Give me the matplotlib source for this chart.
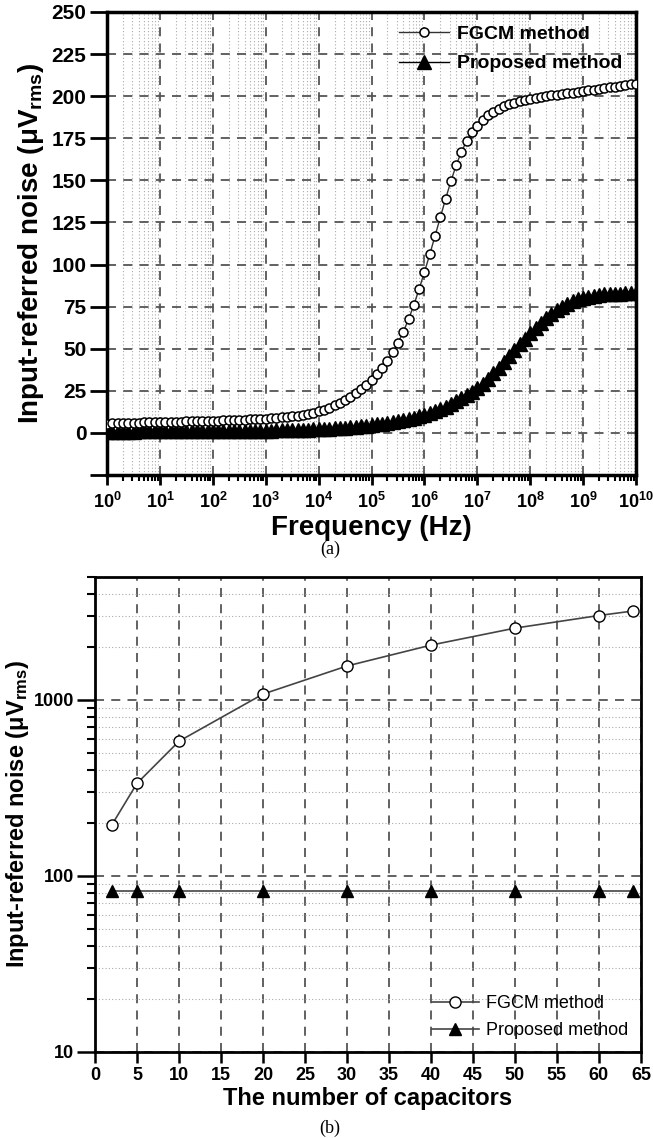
import matplotlib
matplotlib.use("Agg")
import matplotlib.pyplot as plt
import matplotlib.ticker as mticker
import numpy as np

plt.rcParams['font.family'] = ['Liberation Sans', 'DejaVu Sans']
plt.rcParams['mathtext.fontset'] = 'custom'
plt.rcParams['mathtext.rm'] = 'Liberation Sans'
plt.rcParams['mathtext.bf'] = 'Liberation Sans:bold'
plt.rcParams['mathtext.it'] = 'Liberation Sans:italic'

# ─── (a) noise vs frequency, 10 points per decade from 1 Hz to 10 GHz ───
freq_exp = np.arange(0, 101) / 10.0
freq_hz = 10.0 ** freq_exp

fgcm_noise = [
    5.5, 5.6, 5.7, 5.8, 5.9, 6.0, 6.1, 6.2, 6.2, 6.3,
    6.4, 6.5, 6.5, 6.6, 6.7, 6.8, 6.9, 7.0, 7.0, 7.1,
    7.2, 7.3, 7.4, 7.5, 7.6, 7.7, 7.8, 8.0, 8.1, 8.3,
    8.5, 8.7, 8.9, 9.2, 9.5, 9.9, 10.3, 10.8, 11.4, 12.1,
    12.9, 13.9, 15.0, 16.3, 17.8, 19.5, 21.4, 23.6, 26.0, 28.7,
    31.7, 35.0, 38.8, 43.0, 47.8, 53.5, 60.0, 67.5, 76.0, 85.5,
    95.5, 106.0, 117.0, 128.0, 139.0, 149.5, 159.0, 167.0, 173.5, 178.5,
    182.5, 186.0, 188.8, 190.8, 192.6, 194.0, 195.1, 196.1, 197.0, 197.7,
    198.3, 198.9, 199.4, 199.9, 200.4, 200.8, 201.3, 201.7, 202.1, 202.6,
    203.0, 203.5, 203.9, 204.4, 204.8, 205.2, 205.7, 206.1, 206.6, 207.0,
    207.5,
]

proposed_noise = [
    0.8, 0.8, 0.8, 0.8, 0.8, 0.8, 0.9, 0.9, 0.9, 0.9,
    0.9, 0.9, 0.9, 1.0, 1.0, 1.0, 1.0, 1.0, 1.0, 1.1,
    1.1, 1.1, 1.1, 1.1, 1.2, 1.2, 1.2, 1.3, 1.3, 1.3,
    1.4, 1.4, 1.5, 1.5, 1.6, 1.7, 1.8, 1.9, 2.0, 2.1,
    2.3, 2.4, 2.6, 2.8, 3.0, 3.2, 3.4, 3.7, 4.0, 4.3,
    4.7, 5.1, 5.5, 6.0, 6.5, 7.0, 7.6, 8.3, 9.0, 9.9,
    10.8, 11.8, 12.9, 14.1, 15.5, 17.0, 18.7, 20.5, 22.3, 24.3,
    26.5, 29.0, 32.0, 35.3, 38.7, 42.2, 45.7, 49.2, 52.6, 56.0,
    59.2, 62.4, 65.4, 68.2, 70.8, 73.1, 75.0, 76.7, 78.1, 79.3,
    80.2, 80.9, 81.5, 81.9, 82.2, 82.4, 82.6, 82.7, 82.8, 82.9,
    83.0,
]

# ─── (b) noise vs number of capacitors ───
n_caps = [2, 5, 10, 20, 30, 40, 50, 60, 64]
fgcm_caps = [195, 336, 583, 1080, 1560, 2050, 2560, 3020, 3200]
proposed_caps = [82, 82, 82, 82, 82, 82, 82, 82, 82]

YLABEL = r'Input-referred noise ($\mathbf{μV_{rms}}$)'
GRID_DASH = dict(color='#555555', linestyle=(0, (5, 4)), linewidth=1.3)
GRID_DOT = dict(color='#aaaaaa', linestyle=(0, (1, 2)), linewidth=0.8)

fig = plt.figure(figsize=(6.53, 11.38), dpi=100)

# ── top panel ──
ax1 = fig.add_axes([0.164, 0.5826, 0.810, 0.4069])
ax1.set_xscale('log')
ax1.set_xlim(1, 1e10)
ax1.set_ylim(-25, 250)

ax1.plot(freq_hz, fgcm_noise, color='#333333', linewidth=1.0, marker='o',
         markersize=6.5, markerfacecolor='white', markeredgecolor='black',
         markeredgewidth=1.1, label='FGCM method', zorder=4)
ax1.plot(freq_hz, proposed_noise, color='black', linewidth=1.0, marker='^',
         markersize=10, markerfacecolor='black', markeredgecolor='black',
         label='Proposed method', zorder=3)

ax1.yaxis.set_major_locator(mticker.FixedLocator(np.arange(-25, 251, 25)))
ax1.yaxis.set_major_formatter(
    mticker.FuncFormatter(lambda v, _: '' if v < 0 else f'{v:.0f}'))
ax1.xaxis.set_major_locator(mticker.LogLocator(base=10, numticks=20))
ax1.xaxis.set_minor_locator(
    mticker.LogLocator(base=10, subs=np.arange(2, 10), numticks=20))
ax1.xaxis.set_major_formatter(
    mticker.FuncFormatter(lambda v, _: r'$\mathbf{10^{%d}}$' % round(np.log10(v))))
ax1.xaxis.set_minor_formatter(mticker.NullFormatter())

ax1.grid(True, which='major', **GRID_DASH)
ax1.grid(True, which='minor', axis='x', **GRID_DOT)
ax1.set_axisbelow(True)

ax1.tick_params(axis='y', which='major', direction='out', length=12, width=2,
                labelsize=15, pad=3)
ax1.tick_params(axis='x', which='major', direction='out', length=7, width=2,
                labelsize=13, pad=5)
ax1.tick_params(axis='x', which='minor', direction='out', length=4, width=1.5)
for lbl in ax1.get_yticklabels():
    lbl.set_fontweight('bold')
for sp in ax1.spines.values():
    sp.set_linewidth(2.5)

ax1.set_xlabel('Frequency (Hz)', fontsize=20, fontweight='bold', labelpad=2)
ax1.set_ylabel(YLABEL, fontsize=20, fontweight='bold', labelpad=4)
ax1.legend(loc='upper right', frameon=False, handlelength=2.6,
           borderaxespad=0.3, labelspacing=0.6, handletextpad=0.4,
           prop={'size': 14, 'weight': 'bold'})

fig.text(0.505, 1 - 549 / 1138, '(a)', family='Liberation Serif',
         fontsize=13, ha='center', va='center')

# ── bottom panel ──
ax2 = fig.add_axes([0.1455, 0.0756, 0.836, 0.4174])
ax2.set_yscale('log')
ax2.set_xlim(0, 65)
ax2.set_ylim(10, 5000)

ax2.plot(n_caps, fgcm_caps, color='#444444', linewidth=1.2, marker='o',
         markersize=8, markerfacecolor='white', markeredgecolor='black',
         markeredgewidth=1.0, label='FGCM method', zorder=4)
ax2.plot(n_caps, proposed_caps, color='#444444', linewidth=1.2, marker='^',
         markersize=8, markerfacecolor='black', markeredgecolor='black',
         label='Proposed method', zorder=4)

ax2.xaxis.set_major_locator(mticker.MultipleLocator(5))
ax2.yaxis.set_major_locator(mticker.FixedLocator([10, 100, 1000]))
ax2.yaxis.set_major_formatter(mticker.FuncFormatter(lambda v, _: f'{v:.0f}'))
ax2.yaxis.set_minor_locator(
    mticker.LogLocator(base=10, subs=np.arange(2, 10), numticks=20))
ax2.yaxis.set_minor_formatter(mticker.NullFormatter())

ax2.grid(True, which='major', **GRID_DASH)
ax2.grid(True, which='minor', axis='y', **GRID_DOT)
ax2.set_axisbelow(True)

ax2.tick_params(axis='x', which='major', direction='out', length=8,
                width=1.8, labelsize=13, pad=3)
ax2.tick_params(axis='y', which='major', direction='out', length=13,
                width=1.8, labelsize=13, pad=2)
ax2.tick_params(axis='y', which='minor', direction='out', length=6, width=1.5)
for lbl in ax2.get_xticklabels() + ax2.get_yticklabels():
    lbl.set_fontweight('bold')
for sp in ax2.spines.values():
    sp.set_linewidth(2.0)

ax2.set_xlabel('The number of capacitors', fontsize=17, fontweight='bold',
               labelpad=2)
ax2.set_ylabel(YLABEL, fontsize=17, fontweight='bold', labelpad=2)
ax2.legend(loc='lower right', frameon=False, handlelength=2.6,
           borderaxespad=0.3, labelspacing=0.55, handletextpad=0.4,
           prop={'size': 13})

fig.text(0.505, 1 - 1128 / 1138, '(b)', family='Liberation Serif',
         fontsize=13, ha='center', va='center')

fig.savefig('out.png', dpi=100, facecolor='white')
